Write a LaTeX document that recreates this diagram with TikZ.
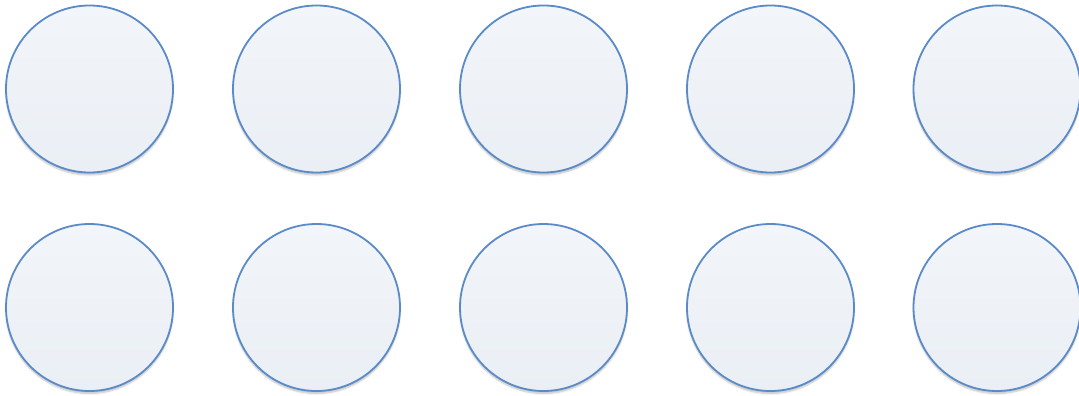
\documentclass[tikz,border=0pt]{standalone}
\usetikzlibrary{shadows.blur}

\definecolor{ringblue}{HTML}{5A8BC8}
\definecolor{ringtop}{HTML}{F2F5F9}
\definecolor{ringbot}{HTML}{EAEFF5}

\begin{document}
\begin{tikzpicture}[x=1pt, y=-1pt,
    ring/.style={circle, draw=ringblue, line width=1.8pt,
                 top color=ringtop, bottom color=ringbot,
                 minimum size=167pt, inner sep=0pt,
                 blur shadow={shadow xshift=0pt, shadow yshift=-2.5pt,
                              shadow blur steps=6, shadow opacity=25}}]
  \useasboundingbox (0,0) rectangle (1079,396);

  % ---- top row
  \node[ring] (t1) at (89.5,89) {};
  \node[ring] (t2) at (316.5,89) {};
  \node[ring] (t3) at (543.5,89) {};
  \node[ring] (t4) at (770.5,89) {};
  \node[ring] (t5) at (997,89) {};

  % ---- bottom row
  \node[ring] (b1) at (89.5,307.5) {};
  \node[ring] (b2) at (316.5,307.5) {};
  \node[ring] (b3) at (543.5,307.5) {};
  \node[ring] (b4) at (770.5,307.5) {};
  \node[ring] (b5) at (997,307.5) {};
\end{tikzpicture}
\end{document}
